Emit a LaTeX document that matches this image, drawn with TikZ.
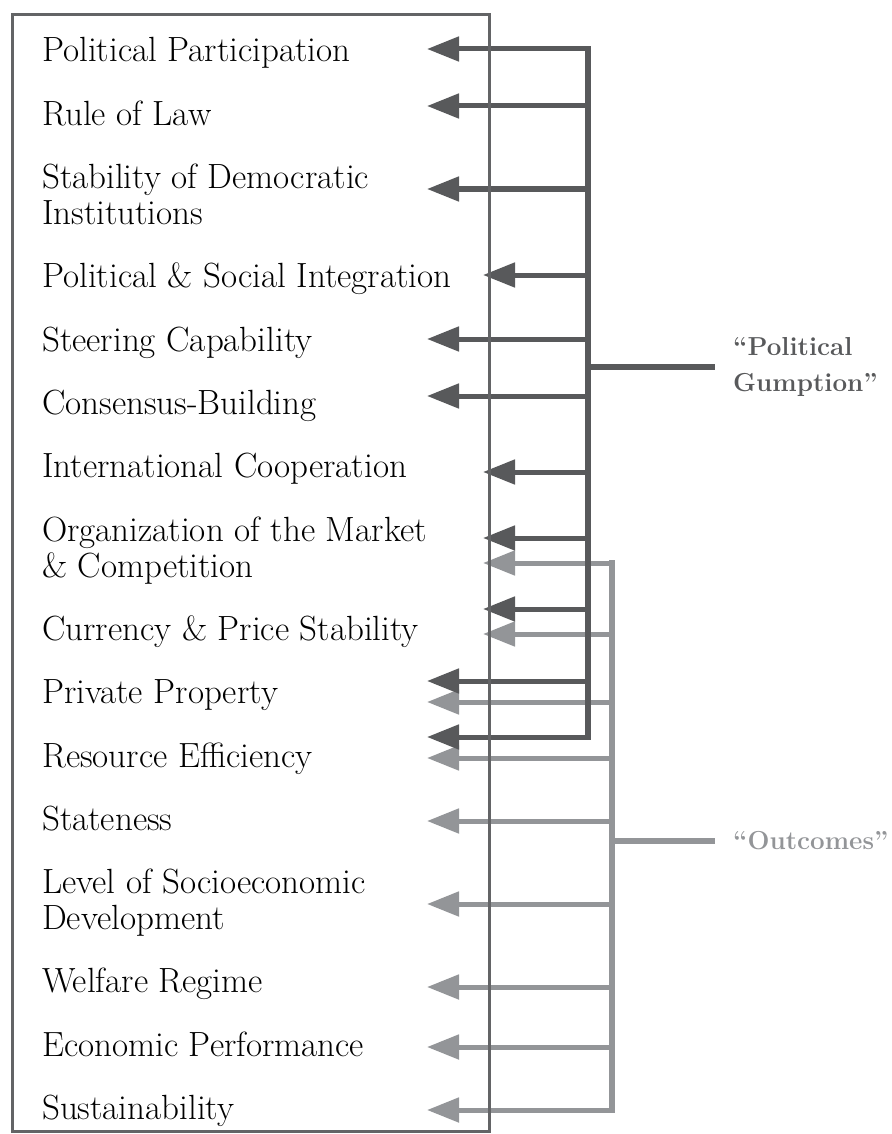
\documentclass[tikz,border=0pt]{standalone}
\usepackage{fontspec}
\usetikzlibrary{arrows.meta}
\definecolor{darkline}{HTML}{58595B}
\definecolor{lightline}{HTML}{939598}
\definecolor{framegray}{HTML}{636466}
\tikzset{
  item/.style={anchor=base west, inner sep=0pt, align=left, text=black,
    font=\fontsize{35}{36}\selectfont},
  tag/.style={anchor=west, inner sep=0pt, align=left,
    font=\fontsize{26}{36}\selectfont\bfseries},
  darkarrow/.style={darkline, line width=5pt, -{Triangle[length=32pt,width=24pt]}},
  lightarrow/.style={lightline, line width=5pt, -{Triangle[length=32pt,width=24pt]}},
  darktrunk/.style={darkline, line width=6pt, line cap=rect},
  lighttrunk/.style={lightline, line width=6pt, line cap=rect},
}

\begin{document}
\begin{tikzpicture}[x=1pt,y=-1pt]
  \useasboundingbox (0,0) rectangle (891,1134);

  % Labels of the list (base = last line)
  \node[item] (pp) at (42,62) {Political Participation};
  \node[item] (law) at (42,125.3) {Rule of Law};
  \node[item] (stab) at (42,224.6) {Stability of Democratic\\Institutions};
  \node[item] (psi) at (42,287.9) {Political \& Social Integration};
  \node[item] (steer) at (42,351.2) {Steering Capability};
  \node[item] (cons) at (42,414.5) {Consensus-Building};
  \node[item] (intl) at (42,477.8) {International Cooperation};
  \node[item] (market) at (42,577.1) {Organization of the Market\\\& Competition};
  \node[item] (curr) at (42,640.4) {Currency \& Price Stability};
  \node[item] (prop) at (42,703.7) {Private Property};
  \node[item] (res) at (42,767) {Resource Efficiency};
  \node[item] (state) at (42,830.3) {Stateness};
  \node[item] (socio) at (42,929.6) {Level of Socioeconomic\\Development};
  \node[item] (welf) at (42,992.9) {Welfare Regime};
  \node[item] (econ) at (42,1056.2) {Economic Performance};
  \node[item] (sust) at (42,1119.5) {Sustainability};

  % Group labels
  \node[tag, text=darkline] (gumption) at (733,367) {“Political\\Gumption”};
  \node[tag, text=lightline] (outcomes) at (733,841) {“Outcomes”};

  % "Outcomes" arrows
  \foreach \n/\y/\x in {1/563/483, 2/634/483, 3/702/427, 4/758/427, 5/821/427,
                        6/904/427, 7/987/427, 8/1047/427, 9/1110/427} {
    \coordinate (o\n) at (612,\y);
    \coordinate (otip\n) at (\x,\y);
    \draw[lightarrow] (o\n) -- (otip\n);
  }
  \coordinate (omid) at (612,841);
  \draw[lighttrunk] (o1) -- (o9);
  \draw[lightline, line width=6pt, shorten >=18pt] (omid) -- (outcomes.west);

  % "Political Gumption" arrows
  \foreach \n/\y/\x in {1/49/427, 2/106/427, 3/189/427, 4/275/483, 5/339/427,
                        6/396/427, 7/472/483, 8/538/483, 9/609/483, 10/681/427,
                        11/737/427} {
    \coordinate (g\n) at (588,\y);
    \coordinate (gtip\n) at (\x,\y);
    \draw[darkarrow] (g\n) -- (gtip\n);
  }
  \coordinate (gmid) at (588,367);
  \draw[darktrunk] (g1) -- (g11);
  \draw[darkline, line width=6pt, shorten >=18pt] (gmid) -- (gumption.west);

  % Frame around the list
  \draw[framegray, line width=3pt] (12,15) rectangle (489,1131);
\end{tikzpicture}
\end{document}
